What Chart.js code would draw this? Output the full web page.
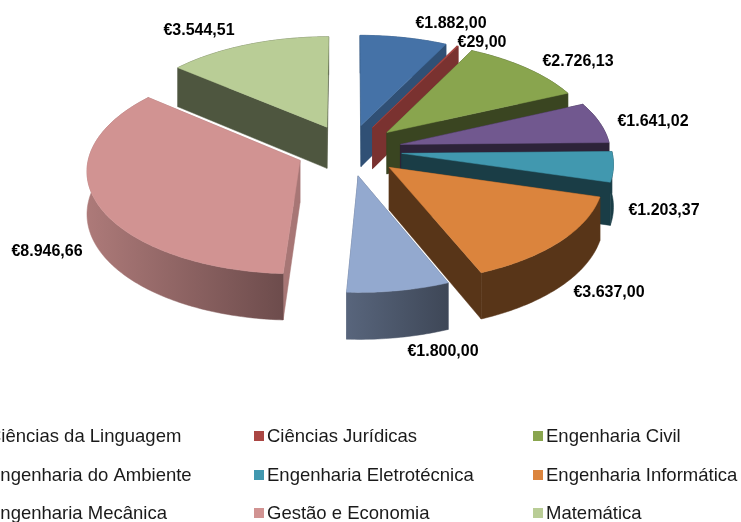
<!DOCTYPE html>
<html lang="pt">
<head>
<meta charset="utf-8">
<style>html,body{margin:0;padding:0;background:#fff;overflow:hidden}canvas{display:block}</style>
<script src="https://cdn.jsdelivr.net/npm/chart.js@4/dist/chart.umd.js"></script>
</head>
<body>
<canvas id="c" width="741" height="522"></canvas>
<script>
const categories = ["Ciências da Linguagem","Ciências Jurídicas","Engenharia Civil","Engenharia do Ambiente","Engenharia Eletrotécnica","Engenharia Informática","Engenharia Mecânica","Gestão e Economia","Matemática"];
const values = [1882.00,29.00,2726.13,1641.02,1203.37,3637.00,1800.00,8946.66,3544.51];
const colors = ["#4572a7","#aa4643","#89a54e","#71588f","#4198af","#db843d","#93a9cf","#d19392","#b9cd96"];
const faceShade = [.70,.72,.42,.40,.40,.40,.60,.80,.42];
const wallShadeL = [.70,.72,.42,.40,.40,.40,.60,.83,.42];
const wallShadeR = [.70,.72,.42,.40,.40,.40,.42,.52,.42];
const labelCentres = [[451,24],[482,43],[578,62],[653,122],[664,211],[609,293],[443,352],[47,252],[199,31]];
const VIEW = {squash:.485, persp:.000407, depth:42};

function shade(hex,f){
  const n=parseInt(hex.slice(1),16);
  return `rgb(${Math.round((n>>16&255)*f)},${Math.round((n>>8&255)*f)},${Math.round((n&255)*f)})`;
}
function euro(v){
  const [i,d]=v.toFixed(2).split(".");
  return "€"+i.replace(/\B(?=(\d{3})+$)/g,".")+","+d;
}
function poly(ctx,pts,fill){
  ctx.beginPath();
  pts.forEach((p,i)=>i?ctx.lineTo(p[0],p[1]):ctx.moveTo(p[0],p[1]));
  ctx.closePath();
  ctx.fillStyle=fill;ctx.fill();
  ctx.strokeStyle=fill;ctx.lineWidth=.5;ctx.stroke();
}

class Arc3D extends Chart.ArcElement{
  static id='arc3d';
  geom(){
    const {x,y,startAngle,endAngle,outerRadius}=this.getProps(['x','y','startAngle','endAngle','outerRadius']);
    const a0=startAngle+Math.PI/2,a1=endAngle+Math.PI/2,mid=(a0+a1)/2,off=this.options.offset||0;
    const ox=Math.sin(mid)*off,oy=Math.cos(mid)*off;
    const proj=(X,Y,z)=>{const g=1/(1+VIEW.persp*Y);return [x+X*g,y-VIEW.squash*Y*g+z*g];};
    const n=Math.max(2,Math.ceil((a1-a0)*60));
    const rim=[];
    for(let i=0;i<=n;i++){const t=a0+(a1-a0)*i/n;rim.push([ox+Math.sin(t)*outerRadius,oy+Math.cos(t)*outerRadius]);}
    return {ox,oy,rim,proj,midY:oy};
  }
  draw(ctx){
    const g=this.geom(),i=this.$context.dataIndex,col=this.options.backgroundColor,D=VIEW.depth;
    const top=p=>g.proj(p[0],p[1],0),bot=p=>g.proj(p[0],p[1],D);
    const apex=[g.ox,g.oy],first=g.rim[0],last=g.rim[g.rim.length-1];
    const fc=shade(col,faceShade[i]);
    poly(ctx,[top(apex),top(first),bot(first),bot(apex)],fc);
    poly(ctx,[top(apex),top(last),bot(last),bot(apex)],fc);
    const upper=g.rim.map(top),lower=g.rim.map(bot);
    const xs=upper.map(p=>p[0]);
    const grad=ctx.createLinearGradient(Math.min(...xs),0,Math.max(...xs),0);
    grad.addColorStop(0,shade(col,wallShadeL[i]));
    grad.addColorStop(1,shade(col,wallShadeR[i]));
    poly(ctx,upper.concat(lower.slice().reverse()),grad);
    poly(ctx,[top(apex)].concat(upper),col);
  }
}
class Pie3D extends Chart.PieController{
  static id='pie3d';
  static defaults={dataElementType:'arc3d'};
  draw(){
    const ctx=this.chart.ctx;
    const els=this._cachedMeta.data.slice().sort((a,b)=>b.geom().midY-a.geom().midY);
    els.forEach(e=>e.draw(ctx,this.chart.chartArea));
  }
}
const textPlugin={
  id:'textPlugin',
  afterDraw(chart){
    const ctx=chart.ctx,ds=chart.data.datasets[0];
    ctx.save();
    ctx.fillStyle='#000';ctx.textBaseline='middle';
    ctx.font='bold 16px "Liberation Sans"';ctx.textAlign='center';
    ds.data.forEach((v,i)=>ctx.fillText(euro(v),labelCentres[i][0],labelCentres[i][1]));
    ctx.font='18.5px "Liberation Sans"';ctx.textAlign='left';
    chart.data.labels.forEach((t,i)=>{
      const col=i%3,row=Math.floor(i/3);
      const x=-12+279*col,y=[436,475,513][row];
      ctx.fillStyle=ds.backgroundColor[i];ctx.fillRect(x-13,y-5,10,10);
      ctx.fillStyle='#1a1a1a';ctx.fillText(t,x,y+1);
    });
    ctx.restore();
  }
};
Chart.register(Arc3D,Pie3D);
new Chart(document.getElementById('c'),{
  type:'pie3d',
  data:{labels:categories,datasets:[{data:values,backgroundColor:colors,borderWidth:0,offset:53}]},
  options:{
    responsive:false,animation:false,radius:210,
    layout:{padding:{left:0,right:43,top:0,bottom:222}},
    plugins:{legend:{display:false},tooltip:{enabled:false}}
  },
  plugins:[textPlugin]
});
</script>
</body>
</html>
